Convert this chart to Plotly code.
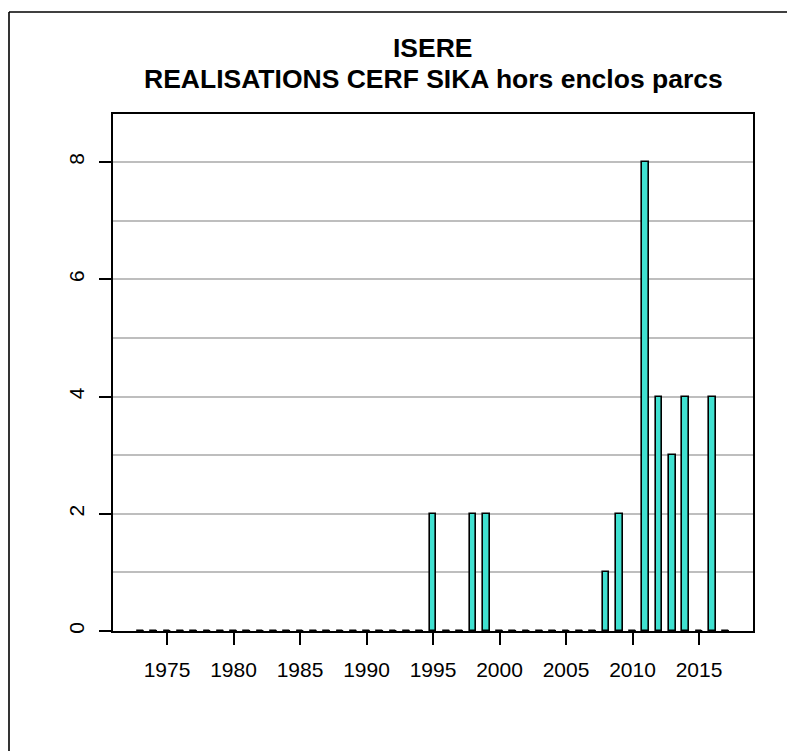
import plotly.graph_objects as go

years = list(range(1973, 2018))
values_by_year = {1995: 2, 1998: 2, 1999: 2, 2008: 1, 2009: 2,
                  2011: 8, 2012: 4, 2013: 3, 2014: 4, 2016: 4}
values = [values_by_year.get(y, 0) for y in years]
x_ticks = [1975, 1980, 1985, 1990, 1995, 2000, 2005, 2010, 2015]
y_ticks = [0, 2, 4, 6, 8]
title_lines = ["ISERE", "REALISATIONS CERF SIKA hors enclos parcs"]

bar_w = 0.5
FONT = "Liberation Sans, Arial, Helvetica, sans-serif"

# page is offset by the browser's 8px body margin; plot area in figure px
L, R, T, B = 105, 745, 106, 623
W, H = 787, 743
pw, ph = R - L, B - T

fig = go.Figure()
fig.add_trace(go.Bar(
    x=years, y=values, width=bar_w,
    marker=dict(color="#40E0D0", line=dict(color="black", width=1.6)),
    showlegend=False, hoverinfo="x+y",
))

# zero-height bars drawn as their flat border (as in R barplot)
zx, zy = [], []
for yr, v in zip(years, values):
    if v == 0:
        zx += [yr - bar_w / 2, yr + bar_w / 2, None]
        zy += [0, 0, None]
fig.add_trace(go.Scatter(x=zx, y=zy, mode="lines",
                         line=dict(color="black", width=2),
                         showlegend=False, hoverinfo="skip", cliponaxis=False))

# outer frame: only the top and left edges are visible in the image
fig.add_shape(type="line", xref="paper", yref="paper",
              x0=(1 - L) / pw, x1=(W - L) / pw, y0=1 + (T - 4) / ph, y1=1 + (T - 4) / ph,
              line=dict(color="black", width=1.6), layer="above")
fig.add_shape(type="line", xref="paper", yref="paper",
              x0=(1 - L) / pw, x1=(1 - L) / pw, y0=-(H - B) / ph, y1=1 + (T - 4) / ph,
              line=dict(color="black", width=1.6), layer="above")

# two-line bold title
for txt, ypix in zip(title_lines, [40, 71]):
    fig.add_annotation(text="<b>" + txt + "</b>", xref="paper", yref="paper",
                       x=0.5, xanchor="center", y=1 + (T - ypix) / ph, yanchor="middle",
                       showarrow=False, font=dict(family=FONT, size=26.5, color="black"))

fig.update_layout(
    width=W, height=H,
    margin=dict(l=L, r=W - R, t=T, b=H - B),
    paper_bgcolor="white", plot_bgcolor="white",
    font=dict(family=FONT, color="black", size=21),
    bargap=0,
)
fig.update_xaxes(
    range=[1970.94, 2019.06], tickmode="array", tickvals=x_ticks,
    ticktext=[str(t) for t in x_ticks],
    ticks="outside", ticklen=12, tickwidth=2, tickcolor="black",
    showline=True, linecolor="black", linewidth=2, mirror=True,
    showgrid=False, zeroline=False, ticklabelstandoff=7,
    tickfont=dict(size=21),
)
fig.update_yaxes(
    range=[0, 8.82], tickmode="array", tickvals=y_ticks,
    ticktext=[str(t) for t in y_ticks],
    ticks="outside", ticklen=12, tickwidth=2, tickcolor="black",
    showline=True, linecolor="black", linewidth=2, mirror=True,
    showgrid=True, gridcolor="#BEBEBE", gridwidth=1.5,
    minor=dict(dtick=1, showgrid=True, gridcolor="#BEBEBE", gridwidth=1.5, ticks=""),
    zeroline=False, tickangle=-90, ticklabelstandoff=7,
    tickfont=dict(size=21),
)

fig.write_html("out.html")
